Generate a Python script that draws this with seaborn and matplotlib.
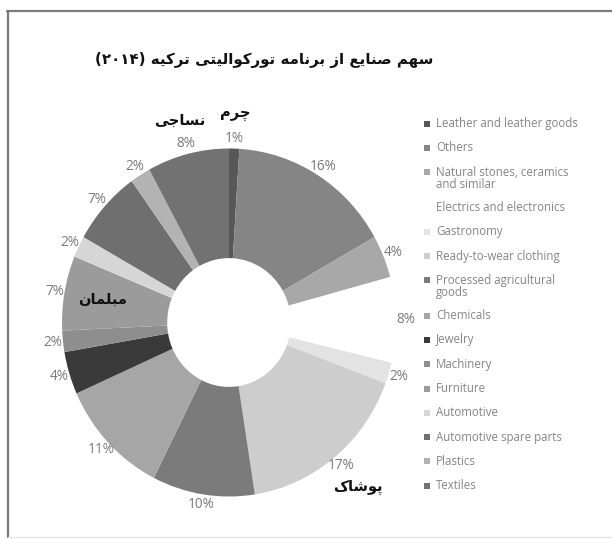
import matplotlib
matplotlib.use("Agg")
import matplotlib.pyplot as plt
import seaborn as sns
import numpy as np
from matplotlib.patches import Rectangle

# ---------------- data ----------------
categories = ["Leather and leather goods", "Others", "Natural stones, ceramics\nand similar",
              "Electrics and electronics", "Gastronomy", "Ready-to-wear clothing",
              "Processed agricultural\ngoods", "Chemicals", "Jewelry", "Machinery",
              "Furniture", "Automotive", "Automotive spare parts", "Plastics", "Textiles"]
shares = [1, 16, 4, 8, 2, 17, 10, 11, 4, 2, 7, 2, 7, 2, 8]
colors = ["#575757", "#858585", "#a8a8a8", "#ffffff", "#e3e3e3", "#cdcdcd",
          "#7b7b7b", "#a6a6a6", "#3a3a3a", "#8e8e8e", "#9b9b9b", "#d6d6d6",
          "#6f6f6f", "#b3b3b3", "#727272"]
title_fa = "سهم صنایع از برنامه تورکوالیتی ترکیه"
title_year = "(۲۰۱۴)"
fa_labels = {0: "چرم", 14: "نساجی", 10: "مبلمان", 5: "پوشاک"}

# ------------- minimal Arabic/Persian shaping -------------
FORMS = {
    'ا': ('\uFE8D', '\uFE8E', None, None),
    'ب': ('\uFE8F', '\uFE90', '\uFE91', '\uFE92'),
    'پ': ('\uFB56', '\uFB57', '\uFB58', '\uFB59'),
    'ت': ('\uFE95', '\uFE96', '\uFE97', '\uFE98'),
    'ج': ('\uFE9D', '\uFE9E', '\uFE9F', '\uFEA0'),
    'چ': ('\uFB7A', '\uFB7B', '\uFB7C', '\uFB7D'),
    'ر': ('\uFEAD', '\uFEAE', None, None),
    'ز': ('\uFEAF', '\uFEB0', None, None),
    'س': ('\uFEB1', '\uFEB2', '\uFEB3', '\uFEB4'),
    'ش': ('\uFEB5', '\uFEB6', '\uFEB7', '\uFEB8'),
    'ص': ('\uFEB9', '\uFEBA', '\uFEBB', '\uFEBC'),
    'ع': ('\uFEC9', '\uFECA', '\uFECB', '\uFECC'),
    'ک': ('\uFB8E', '\uFB8F', '\uFB90', '\uFB91'),
    'ل': ('\uFEDD', '\uFEDE', '\uFEDF', '\uFEE0'),
    'م': ('\uFEE1', '\uFEE2', '\uFEE3', '\uFEE4'),
    'ن': ('\uFEE5', '\uFEE6', '\uFEE7', '\uFEE8'),
    'ه': ('\uFEE9', '\uFEEA', '\uFEEB', '\uFEEC'),
    'و': ('\uFEED', '\uFEEE', None, None),
    'ی': ('\uFBFC', '\uFBFD', '\uFBFE', '\uFBFF'),
}


def shape(text):
    out = []
    for i, ch in enumerate(text):
        if ch not in FORMS:
            out.append(ch)
            continue
        prev = text[i - 1] if i > 0 else None
        nxt = text[i + 1] if i + 1 < len(text) else None
        jp = prev in FORMS and FORMS[prev][2] is not None
        jn = FORMS[ch][2] is not None and nxt in FORMS
        iso, fin, ini, med = FORMS[ch]
        if jp and jn:
            out.append(med)
        elif jp:
            out.append(fin)
        elif jn:
            out.append(ini)
        else:
            out.append(iso)
    return ''.join(out)[::-1]


# ---------------- figure ----------------
sns.set_theme(style="white")
plt.rcParams['font.family'] = ['Open Sans', 'DejaVu Sans']

W, H = 612, 539
fig = plt.figure(figsize=(W / 100, H / 100), dpi=100)
fig.patch.set_facecolor("white")

# frame lines
fig.add_artist(plt.Line2D([7 / W, 1], [1 - 10.5 / H] * 2, color="#7a7a7a", lw=1.6))
fig.add_artist(plt.Line2D([7.5 / W] * 2, [1 - 10.5 / H, 1 - 537 / H], color="#7a7a7a", lw=1.6))
fig.add_artist(plt.Line2D([7.5 / W, 1], [1 - 537 / H] * 2, color="#e6e6e6", lw=1.0))

# pie axes
cx, cy, rx, ry, L = 229, 322.5, 167, 174, 1.3
ax = fig.add_axes([(cx - L * rx) / W, (H - cy - L * ry) / H, 2 * L * rx / W, 2 * L * ry / H])
pct_labels = [f"{v}%" for v in shares]
wedges, texts = ax.pie(shares, colors=colors, startangle=90, counterclock=False,
                       labels=pct_labels, labeldistance=1.06,
                       wedgeprops=dict(width=0.63, linewidth=0),
                       textprops=dict(color="#7a7a7a", fontsize=9.8))
for t in texts:
    t.set_ha("center")
    t.set_va("center")
ax.set_aspect("auto")
ax.set_xlim(-L, L)
ax.set_ylim(-L, L)
ax.axis("off")

# Persian category labels
fa_radius = {0: 1.2, 14: 1.2, 10: 0.77, 5: 1.22}
for idx, txt in fa_labels.items():
    w = wedges[idx]
    ang = np.deg2rad((w.theta1 + w.theta2) / 2)
    r = fa_radius[idx]
    ax.text(r * np.cos(ang), r * np.sin(ang), shape(txt), ha="center", va="center",
            fontsize=10.5, fontweight="bold", color="#111111", family="DejaVu Sans")

# title
fig.text(264 / W, 1 - 60 / H, title_year + " " + shape(title_fa), ha="center", va="center",
         fontsize=10.8, fontweight="bold", color="#111111", family="DejaVu Sans")

# legend
y = 123.5
for lab, col in zip(categories, colors):
    n = lab.count("\n") + 1
    fig.add_artist(Rectangle((424 / W, 1 - (y + 3) / H), 6 / W, 6 / H,
                             facecolor=col, edgecolor="none", transform=fig.transFigure))
    fig.text(436 / W, 1 - (y - 6.5) / H, lab, ha="left", va="top", fontsize=8.3,
             color="#858585", linespacing=0.9)
    y += 24.3 + 11 * (n - 1)

fig.savefig("out.png", dpi=100, facecolor="white")
